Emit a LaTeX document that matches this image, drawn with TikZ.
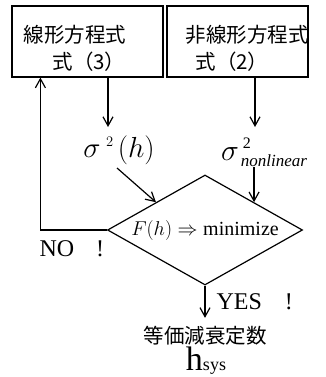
\RequirePackage{fix-cm}
\documentclass[tikz,border=0pt]{standalone}
\usepackage{fontspec}
\setmainfont{Liberation Serif}
\newfontfamily\jp{Noto Sans CJK JP}
\usetikzlibrary{arrows.meta,positioning,calc,shapes.geometric}

\begin{document}
\begin{tikzpicture}[x=1pt,y=-1pt,line width=1.2pt,
  arr/.style={-{Straight Barb[length=9pt,width=10pt]}},
  eqbox/.style={draw,minimum height=71pt,inner sep=0pt},
  jptext/.style={font=\jp\fontsize{20.5}{27}\selectfont,align=left,inner sep=0pt,anchor=west},
  yesno/.style={anchor=west,inner sep=0pt,font=\fontsize{24}{24}\selectfont}]
\useasboundingbox (0,0) rectangle (325,377);
% the two equation boxes
\node[eqbox,minimum width=151pt] (linbox) at (87.5,41.5) {};
\node[eqbox,minimum width=141pt] (nonlinbox) at (237.5,41.5) {};
\node[jptext] (lintxt) at (23,48.5) {線形方程式\\\hspace*{29pt}式（3）};
\node[jptext] (nonlintxt) at (185,48.5) {非線形方程式\\\hspace*{10pt}式（2）};
% variances
\node[font=\fontsize{29}{29}\selectfont,inner sep=0pt] (sigh) at (119,150)
  {$\sigma^{\;\scriptscriptstyle 2\;}(h)$};
\node[inner sep=0pt] (signl) at (264,152)
  {\fontsize{30}{30}\selectfont$\sigma$\raisebox{12pt}{\fontsize{16}{16}\selectfont\hspace{4pt}2}%
   \hspace{-10pt}\raisebox{-6pt}{\fontsize{17}{17}\selectfont\textit{nonlinear}}};
% criterion
\node[draw,diamond,aspect=1.77,minimum width=195pt,minimum height=110pt,inner sep=0pt,
  font=\fontsize{20}{20}\selectfont] (crit) at (205,230) {$F(h)\Rightarrow\mathrm{minimize}$};
\node[yesno] (no) at (39,249) {NO\hspace{22pt}!};
\node[yesno] (yes) at (216,302) {YES\hspace{23pt}!};
% result
\node[font=\jp\fontsize{20.5}{20}\selectfont,inner sep=0pt] (res) at (205,336) {等価減衰定数};
\node[inner sep=0pt,anchor=base] (hsys) at (206,370)
  {\fontsize{34}{34}\selectfont h\fontsize{18}{18}\selectfont sys};
\coordinate (aL) at (108,127);
\coordinate (aR) at (255,127);
\draw[arr] (aL |- linbox.south) -- (aL);
\draw[arr] (aR |- nonlinbox.south) -- (aR);
\draw[arr] ([xshift=-2pt,yshift=-18pt]sigh.center) -- (crit.north west);
\draw[arr] (crit.north east |- signl.south) -- (crit.north east);
\draw[arr] (crit.west) -| ([xshift=29pt]linbox.south west);
\draw[arr] (crit.south) -- ([yshift=8pt]res.north);
\end{tikzpicture}
\end{document}
